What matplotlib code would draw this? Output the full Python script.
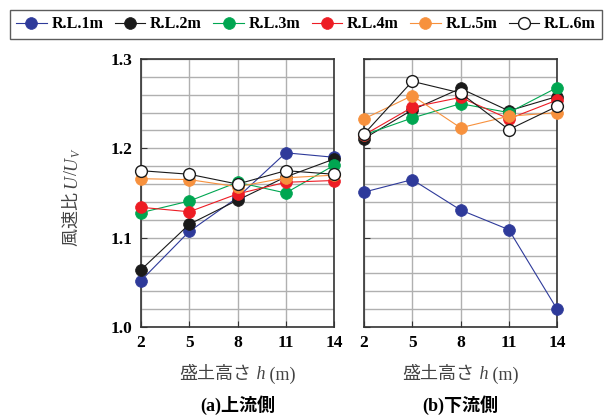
import matplotlib
matplotlib.use("Agg")
import matplotlib.pyplot as plt
from matplotlib.ticker import MultipleLocator

plt.rcParams['font.family'] = ['Liberation Serif', 'Noto Sans CJK JP']

h = [2, 5, 8, 11, 14]
labels = ['R.L.1m', 'R.L.2m', 'R.L.3m', 'R.L.4m', 'R.L.5m', 'R.L.6m']
colors = ['#2E3A9A', '#1a1a1a', '#00A651', '#ED1C24', '#F7913D', 'white']

upstream = [
    [1.052, 1.107, 1.145, 1.195, 1.190],
    [1.064, 1.115, 1.142, 1.168, 1.188],
    [1.128, 1.141, 1.162, 1.150, 1.181],
    [1.134, 1.129, 1.149, 1.162, 1.164],
    [1.166, 1.165, 1.157, 1.167, 1.170],
    [1.175, 1.171, 1.160, 1.175, 1.171],
]
downstream = [
    [1.151, 1.165, 1.131, 1.109, 1.020],
    [1.211, 1.243, 1.267, 1.242, 1.258],
    [1.215, 1.234, 1.250, 1.240, 1.268],
    [1.215, 1.246, 1.257, 1.233, 1.254],
    [1.233, 1.259, 1.223, 1.236, 1.240],
    [1.216, 1.275, 1.262, 1.221, 1.247],
]

fig = plt.figure(figsize=(6.12, 4.17), dpi=100)
ax1 = fig.add_axes([0.2304, 0.2158, 0.3154, 0.6427])
ax2 = fig.add_axes([0.5948, 0.2158, 0.3154, 0.6427])
renderer = fig.canvas.get_renderer()


def rich_text(x, y, pieces, rotation=0, **kw):
    # draw pieces one after another, centred on (x, y) in figure coords
    objs = []
    total = 0
    for s, style, size in pieces:
        t = fig.text(0, 0, s, rotation=rotation, fontstyle=style, fontsize=size, **kw)
        bb = t.get_window_extent(renderer)
        w = bb.height if rotation else bb.width
        objs.append((t, w))
        total += w
    px, py = fig.transFigure.transform((x, y))
    pos = -total / 2
    for t, w in objs:
        t.set_transform(fig.dpi_scale_trans)
        if rotation:
            t.set_position((px / fig.dpi, (py + pos) / fig.dpi))
            t.set_ha('center')
            t.set_va('bottom')
        else:
            t.set_position(((px + pos) / fig.dpi, py / fig.dpi))
            t.set_ha('left')
            t.set_va('center')
        pos += w
    return objs


handles = []
for ax, data in [(ax1, upstream), (ax2, downstream)]:
    for i, vals in enumerate(data):
        line_c = '#1a1a1a' if colors[i] == 'white' else colors[i]
        ln, = ax.plot(h, vals, '-o', color=line_c, lw=0.8,
                      ms=8.5, mfc=colors[i], mec=line_c,
                      mew=1.0 if colors[i] == 'white' else 0.5,
                      label=labels[i], zorder=3 + i, clip_on=False)
        if ax is ax1:
            handles.append(ln)
    ax.set_xlim(2, 14)
    ax.set_ylim(1.0, 1.3)
    ax.set_xticks(h)
    ax.yaxis.set_major_locator(MultipleLocator(0.1))
    ax.yaxis.set_minor_locator(MultipleLocator(0.02))
    ax.grid(True, which='both', axis='y', color='#b0b0b0', lw=1.0)
    ax.grid(True, which='major', axis='x', color='#b0b0b0', lw=1.0)
    ax.set_axisbelow(True)
    ax.tick_params(which='major', direction='in', length=4, labelsize=12.5,
                   colors='#333333', labelcolor='black', pad=6)
    ax.tick_params(which='minor', length=0)
    for s in ax.spines.values():
        s.set_color('#333333')
        s.set_linewidth(1.2)
    for t in ax.get_xticklabels() + ax.get_yticklabels():
        t.set_fontweight('bold')

ax2.set_yticklabels([])

xl = [('盛土高さ', 'normal', 13), (' h', 'italic', 13), (' (m)', 'normal', 13)]
rich_text(0.3881, 0.101, xl, color='#444444')
rich_text(0.7525, 0.101, xl, color='#444444')
yl = [('風速比 ', 'normal', 13), ('U', 'italic', 13), ('/', 'normal', 13),
      ('U', 'italic', 13), ('V', 'italic', 8.5)]
objs = rich_text(0.118, 0.525, yl, rotation=90, color='#444444')
# shift the subscript V slightly to the right (below the baseline when rotated)
sub = objs[-1][0]
sx, sy = sub.get_position()
sub.set_position((sx + 0.04, sy))

fig.text(0.3881, 0.014, '(a)上流側', ha='center', fontsize=13, fontweight='bold')
fig.text(0.7525, 0.014, '(b)下流側', ha='center', fontsize=13, fontweight='bold')

leg = fig.legend(handles=handles, loc='upper center', bbox_to_anchor=(0.5, 0.995),
                 ncol=6, fontsize=11.5, frameon=True, fancybox=False,
                 handlelength=1.9, handletextpad=0.3, columnspacing=0.72,
                 borderpad=0.4, edgecolor='#333333')
leg.get_frame().set_linewidth(1.0)
for t in leg.get_texts():
    t.set_fontweight('bold')

fig.savefig('out.png', dpi=100)
